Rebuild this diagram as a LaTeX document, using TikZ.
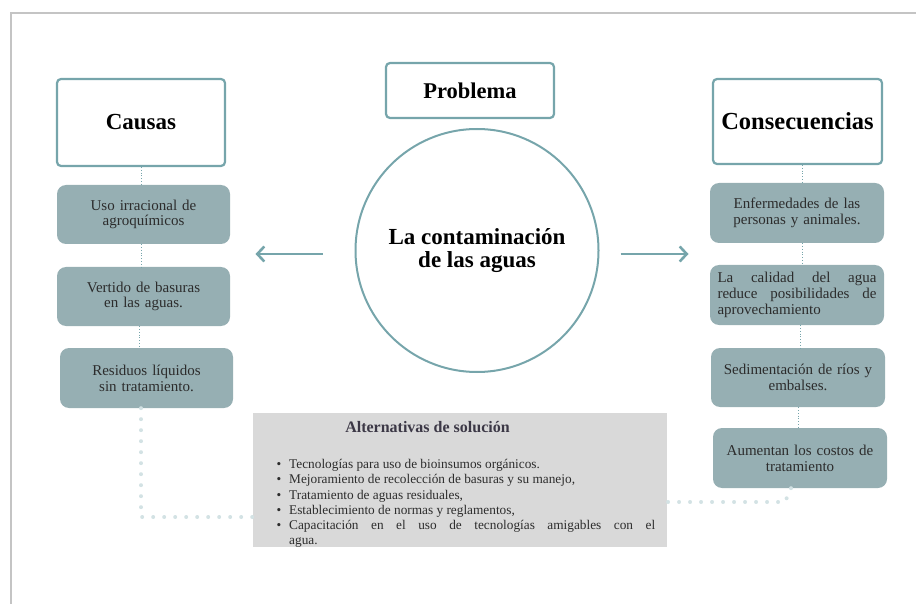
\documentclass[tikz,border=0pt]{standalone}
\usepackage{fontspec}
\setmainfont{Liberation Serif}
\usetikzlibrary{calc,arrows.meta}
\definecolor{tealline}{HTML}{76A5AB}
\definecolor{boxfill}{HTML}{96AFB3}
\definecolor{dotlight}{HTML}{D3E2E4}
\definecolor{altfill}{HTML}{D9D9D9}
\definecolor{frameline}{HTML}{C4C4C4}
\definecolor{boxtext}{HTML}{2C2C2C}
\definecolor{alttitle}{HTML}{3C3846}
\newcommand{\altitem}{\leavevmode\llap{\textbullet\hspace{8pt}}}
\tikzset{
	titlebox/.style={draw=tealline, line width=2.2pt, fill=white, rounded corners=4pt, font=\fontsize{23}{26}\selectfont\bfseries},
	causebox/.style={fill=boxfill, rounded corners=9pt, minimum width=173pt, minimum height=59pt, text width=162pt, align=center, text=boxtext, inner sep=0pt, font=\fontsize{15}{15.8}\selectfont},
	thindots/.style={draw=tealline, line width=0.8pt, dotted},
	bigdots/.style={draw=dotlight, line width=4pt, line cap=round, dash pattern=on 0pt off 11pt},
	sidearrow/.style={draw=tealline, line width=2.6pt, -{Straight Barb[length=7pt, width=15pt, line width=2.6pt]}}
}
\begin{document}
\begin{tikzpicture}[x=1pt, y=-1pt]
		%%%%% START %%%%%
		\useasboundingbox (0, 0) rectangle (916, 604);
		
		\draw[frameline, line width=2pt] (11, 604) -- (11, 13) -- (916, 13);
		
		% titles
		\node[titlebox, minimum width=168pt, minimum height=87pt] (causas) at (141, 122.5) {Causas};
		\node[titlebox, minimum width=168pt, minimum height=55pt, font=\fontsize{22.5}{25}\selectfont\bfseries] (problema) at (470, 90.5) {Problema};
		\node[titlebox, minimum width=169pt, minimum height=85pt, font=\fontsize{24.5}{26}\selectfont\bfseries] (consec) at (797.5, 121.5) {Consecuencias};
		
		\node[circle, draw=tealline, line width=2pt, minimum size=243pt, align=center, font=\fontsize{23}{23}\selectfont\bfseries] (agua) at (477, 250.5) {La contaminación\\de las aguas};
		
		% causas
		\node[causebox] (ca1) at (143.5, 214.5) {Uso irracional de\\agroquímicos};
		\node[causebox] (ca2) at (143.5, 296.5) {Vertido de basuras\\en las aguas.};
		\node[causebox, minimum height=60pt] (ca3) at (146.5, 378) {Residuos líquidos\\sin tratamiento.};
		
		% consecuencias
		\node[causebox, minimum width=174pt, minimum height=60pt] (co1) at (797, 213) {Enfermedades de las\\personas y animales.};
		\node[causebox, minimum width=174pt, minimum height=60pt, text width=159pt, align=justify] (co2) at (797, 295) {La calidad del agua\linebreak reduce posibilidades de\linebreak aprovechamiento};
		\node[causebox, minimum width=174pt] (co3) at (798, 377.5) {Sedimentación de ríos y\\embalses.};
		\node[causebox, minimum width=174pt, minimum height=60pt] (co4) at (800, 458) {Aumentan los costos de\\tratamiento};
		
		\draw[thindots] (causas.south) -- (causas.south |- ca1.north);
		\draw[thindots] (causas.south |- ca1.south) -- (causas.south |- ca2.north);
		\draw[thindots] ([xshift=-2pt]causas.south |- ca2.south) -- ([xshift=-2pt]causas.south |- ca3.north);
		
		\draw[thindots] ([xshift=4.5pt]consec.south) -- ([xshift=4.5pt]consec.south |- co1.north);
		\draw[thindots] ([xshift=4.5pt]consec.south |- co1.south) -- ([xshift=4.5pt]consec.south |- co2.north);
		\draw[thindots] ([xshift=2.5pt]consec.south |- co2.south) -- ([xshift=2.5pt]consec.south |- co3.north);
		\draw[thindots] ([xshift=0.5pt]consec.south |- co3.south) -- ([xshift=0.5pt]consec.south |- co4.north);
		
		% arrows
		\coordinate (lfrom) at ([xshift=-32pt, yshift=-3.5pt]agua.west);
		\coordinate (lto) at ([xshift=-99pt, yshift=-3.5pt]agua.west);
		\coordinate (rfrom) at ([xshift=21pt, yshift=-3.5pt]agua.east);
		\coordinate (rto) at ([xshift=89pt, yshift=-3.5pt]agua.east);
		\draw[sidearrow] (lfrom) -- (lto);
		\draw[sidearrow] (rfrom) -- (rto);
		
		% alternativas
		\node[fill=altfill, minimum width=414pt, minimum height=134pt, inner sep=0pt] (alt) at (460, 480) {};
		\node[text=alttitle, font=\fontsize{16}{17}\selectfont\bfseries, anchor=base] (alttit) at (427.5, 432) {Alternativas de solución};
		\node[text=boxtext, text width=366pt, align=justify, inner sep=0pt, anchor=north west, font=\fontsize{13.3}{15.3}\selectfont] (altlist) at (289, 459) {%
			\altitem Tecnologías para uso de bioinsumos orgánicos.\par
			\altitem Mejoramiento de recolección de basuras y su manejo,\par
			\altitem Tratamiento de aguas residuales,\par
			\altitem Establecimiento de normas y reglamentos,\par
			\altitem Capacitación en el uso de tecnologías amigables con el\linebreak agua.};
		
		\coordinate (lknee) at (141, 517);
		\coordinate (rknee) at (785, 502);
		\draw[bigdots] ([xshift=-5.5pt]ca3.south) -- (lknee) -- (lknee -| alt.west);
		\draw[bigdots] ([xshift=-9pt]co4.south) -- (rknee) -- (rknee -| alt.east);
		
		%%%%% END %%%%%
	\end{tikzpicture}
\end{document}
